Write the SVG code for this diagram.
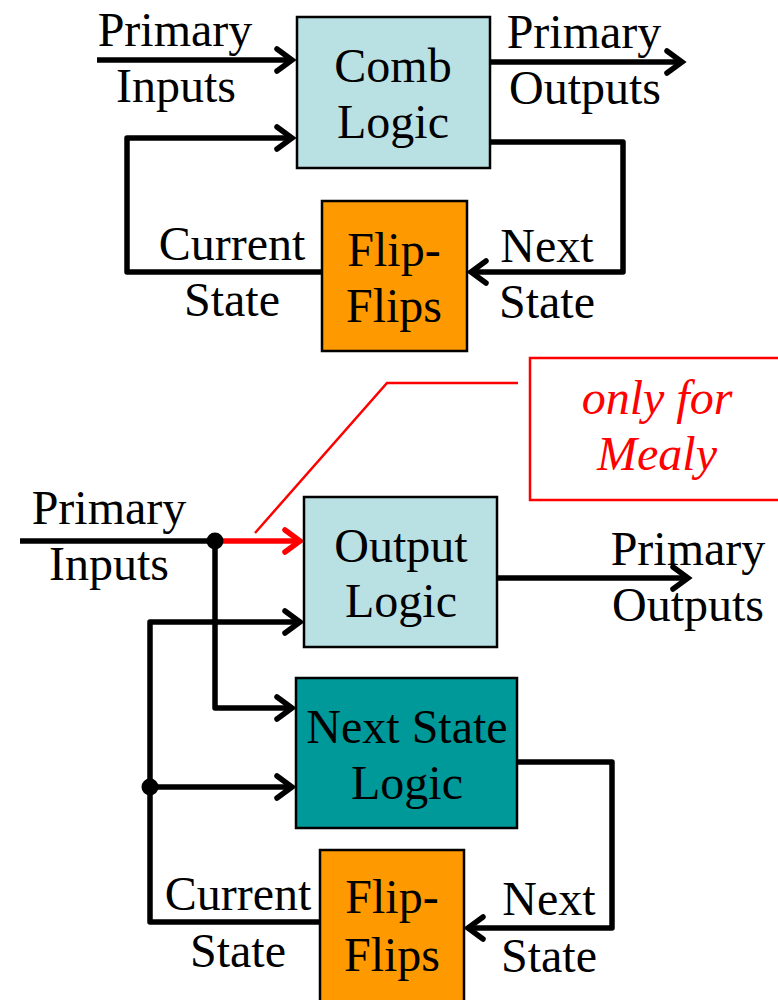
<svg xmlns="http://www.w3.org/2000/svg" width="778" height="1000" viewBox="0 0 778 1000" font-family="Liberation Serif, Times New Roman, DejaVu Serif, serif">
<style>
text{font-family:'Liberation Serif','DejaVu Serif',serif;font-size:48px;fill:#000;text-anchor:middle}
.r{fill:#ff0000;font-style:italic}
.box{stroke:#000;stroke-width:2.5}
.lb{fill:#b9e0e3}
.tl{fill:#009999}
.or{fill:#ff9900}
.w{fill:none;stroke:#000;stroke-width:5.5;stroke-linejoin:round}
.wr{fill:none;stroke:#ff0000;stroke-width:5.5}
</style>
<defs>
<marker id="a" markerUnits="userSpaceOnUse" markerWidth="30" markerHeight="30" viewBox="-20 -15 30 30" refX="0" refY="0" orient="auto" overflow="visible">
<path d="M-15,-11 L0,0 L-15,11" fill="none" stroke="#000" stroke-width="5.5" stroke-linecap="round" stroke-linejoin="miter"/>
</marker>
<marker id="ar" markerUnits="userSpaceOnUse" markerWidth="30" markerHeight="30" viewBox="-20 -15 30 30" refX="0" refY="0" orient="auto" overflow="visible">
<path d="M-15,-11 L0,0 L-15,11" fill="none" stroke="#ff0000" stroke-width="5.5" stroke-linecap="round" stroke-linejoin="miter"/>
</marker>
</defs>

<g id="connectors">
<path class="w" d="M97,60 L292,60" marker-end="url(#a)"/>
<path class="w" d="M490,62 L682,62" marker-end="url(#a)"/>
<path class="w" d="M322,272 L127,272 L127,138 L292,138" marker-end="url(#a)"/>
<path class="w" d="M490,142 L623,142 L623,272 L471,272" marker-end="url(#a)"/>
<path d="M518,383 L387,383 L255,533" fill="none" stroke="#ff0000" stroke-width="2.5"/>
<path class="w" d="M20,541 L215,541"/>
<path class="wr" d="M215,541 L300,541" marker-end="url(#ar)"/>
<path class="w" d="M215,541 L215,708 L292,708" marker-end="url(#a)"/>
<path class="w" d="M497,578 L688,578" marker-end="url(#a)"/>
<path class="w" d="M320,922 L150,922 L150,622 L300,622" marker-end="url(#a)"/>
<path class="w" d="M150,787 L292,787" marker-end="url(#a)"/>
<path class="w" d="M517,762 L612,762 L612,928 L468,928" marker-end="url(#a)"/>
<circle cx="215" cy="541" r="8.5" fill="#000"/>
<circle cx="150" cy="787" r="8.5" fill="#000"/>
</g>

<g id="top-inputs-label">
<text x="175" y="46">Primary</text>
<text x="176" y="102">Inputs</text>
</g>
<g id="comb-logic">
<rect class="box lb" x="297" y="17" width="193" height="151"/>
<text x="393" y="82">Comb</text>
<text x="393" y="138">Logic</text>
</g>
<g id="top-outputs-label">
<text x="584" y="48">Primary</text>
<text x="585" y="104">Outputs</text>
</g>
<g id="top-flipflops">
<rect class="box or" x="322" y="201" width="145" height="150"/>
<text x="394" y="266">Flip-</text>
<text x="394" y="322">Flips</text>
</g>
<g id="top-current-state-label">
<text x="232" y="260">Current</text>
<text x="232" y="316">State</text>
</g>
<g id="top-next-state-label">
<text x="547" y="262">Next</text>
<text x="547" y="318">State</text>
</g>

<g id="mealy-callout">
<rect x="530" y="358" width="260" height="142" fill="#fff" stroke="#ff0000" stroke-width="2.5"/>
<text class="r" x="657" y="414">only for</text>
<text class="r" x="657" y="470">Mealy</text>
</g>

<g id="bottom-inputs-label">
<text x="109" y="524">Primary</text>
<text x="109" y="580">Inputs</text>
</g>
<g id="output-logic">
<rect class="box lb" x="304" y="497" width="193" height="150"/>
<text x="401" y="562">Output</text>
<text x="401" y="617">Logic</text>
</g>
<g id="bottom-outputs-label">
<text x="688" y="565">Primary</text>
<text x="688" y="621">Outputs</text>
</g>
<g id="next-state-logic">
<rect class="box tl" x="296" y="678" width="221" height="150"/>
<text x="407" y="743">Next State</text>
<text x="407" y="799">Logic</text>
</g>
<g id="bottom-flipflops">
<rect class="box or" x="320" y="850" width="144" height="160"/>
<text x="392" y="913">Flip-</text>
<text x="392" y="971">Flips</text>
</g>
<g id="bottom-current-state-label">
<text x="238" y="910">Current</text>
<text x="238" y="967">State</text>
</g>
<g id="bottom-next-state-label">
<text x="549" y="915">Next</text>
<text x="549" y="972">State</text>
</g>
</svg>
